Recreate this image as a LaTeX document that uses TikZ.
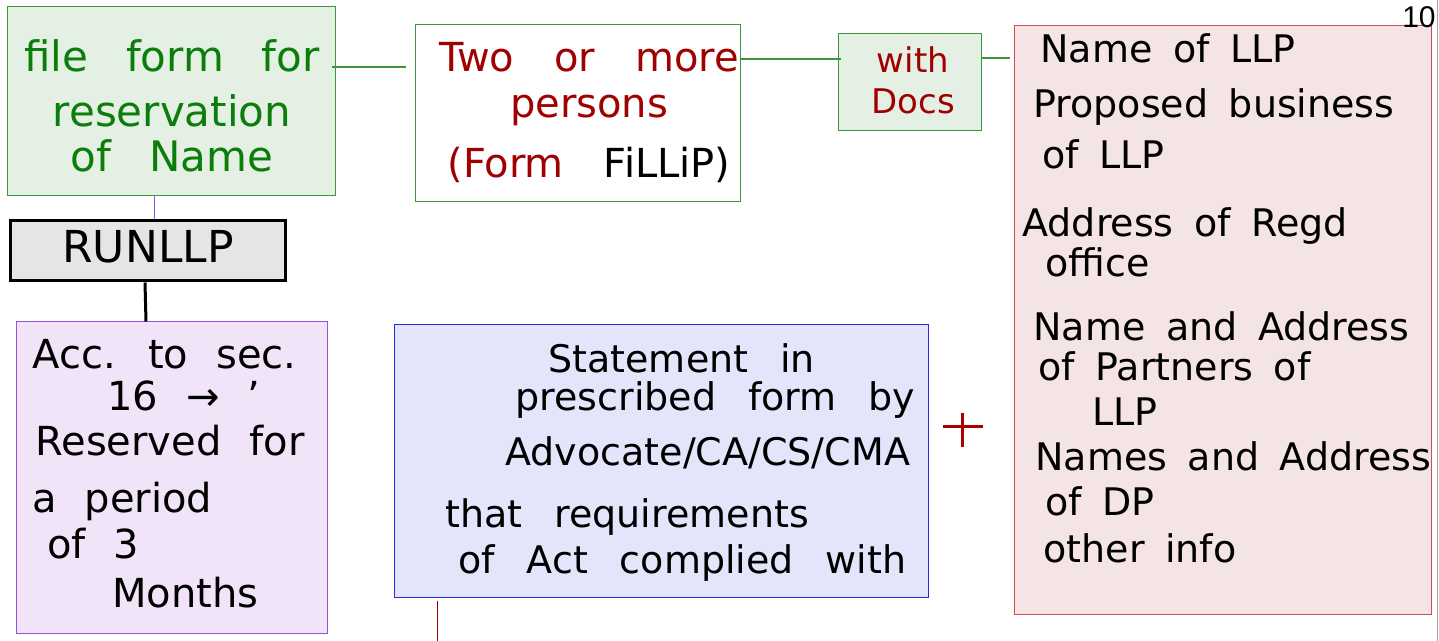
\documentclass[tikz,border=0pt]{standalone}
\usepackage{fontspec}
\setmainfont{DejaVu Sans}
\newfontfamily\pagefont{Liberation Sans}
\definecolor{formgreen}{RGB}{228,240,228}
\definecolor{linegreen}{RGB}{60,150,60}
\definecolor{inkgreen}{RGB}{10,125,10}
\definecolor{inkred}{RGB}{160,0,0}
\definecolor{pinkfill}{RGB}{245,228,229}
\definecolor{pinkline}{RGB}{200,80,80}
\definecolor{lilac}{RGB}{241,228,248}
\definecolor{lilacline}{RGB}{150,80,220}
\definecolor{bluefill}{RGB}{228,228,251}
\definecolor{blueline}{RGB}{40,40,230}
% hand-like text: size, line skip, word space
\newcommand\handfont[3]{\fontsize{#1}{#2}\selectfont\spaceskip=#3 plus 0.1em\relax}
\tikzset{
  box/.style = {draw, line width = 0.5pt, inner sep = 0pt},
  ink/.style = {inner sep = 0pt},
  link/.style = {draw = linegreen, line width = 0.6pt},
}

\begin{document}
\begin{tikzpicture}[x = 0.5pt, y = -0.5pt]
\useasboundingbox (0,0) rectangle (1439,641);
% boxes
\node[box, fill = formgreen, draw = linegreen, minimum width = 164pt, minimum height = 94.5pt](form)at(171,101.5){};
\node[box, fill = white, draw = linegreen, minimum width = 162.5pt, minimum height = 88.5pt](persons)at(577.5,113.5){};
\node[box, fill = formgreen, draw = linegreen, minimum width = 71.5pt, minimum height = 48.5pt](docs)at(909.5,82.5){};
\node[box, fill = pinkfill, draw = pinkline, minimum width = 208.5pt, minimum height = 294pt](details)at(1222.5,320){};
\node[box, fill = black!10, line width = 1.5pt, minimum width = 137.5pt, minimum height = 30pt, text depth = 5pt, font = \fontsize{22}{22}\selectfont](runllp)at(148,251){RUNLLP};
\node[box, fill = lilac, draw = lilacline, minimum width = 155.5pt, minimum height = 155.5pt](period)at(171.5,477.5){};
\node[box, fill = bluefill, draw = blueline, minimum width = 267pt, minimum height = 136pt](statement)at(661,461){};
% texts
\node[ink, anchor = north, align = center, text = inkgreen, font = \handfont{21}{25}{0.9em}](formtext)at(172,39){file form for\\[2.5pt] reservation\\[-2.5pt] of Name};
\node[ink, anchor = north, align = center, text = inkred, font = \handfont{20}{25}{1em}](personstext)at(589,42){Two or more\\[-2pt] persons\\[5pt] (Form \textcolor{black}{FiLLiP)}};
\node[ink, anchor = north, align = center, text = inkred, font = \handfont{17}{20.5}{0.5em}](docstext)at(913,46){with\\ Docs};
\node[ink, anchor = north west, align = left, font = \handfont{19}{25}{0.54em}](detailstext)at(1022,33){%
\hspace*{9pt}Name of LLP\\[2.5pt]
\hspace*{5.5pt}Proposed business\\[0.5pt]
\hspace*{10pt}of LLP\\[9pt]
Address of Regd\\[-5pt]
\hspace*{11.5pt}office\\[7pt]
\hspace*{5.5pt}Name and Address\\[-5pt]
\hspace*{8pt}of Partners of\\[-2.5pt]
\hspace*{35pt}LLP\\[-2.5pt]
\hspace*{6.5pt}Names and Address\\[-2.5pt]
\hspace*{11.5pt}of DP\\[-1.5pt]
\hspace*{10.5pt}other info};
\node[ink, anchor = north west, align = left, font = \handfont{20}{23}{0.7em}](periodtext)at(32,339){%
Acc. to sec.\\[-2pt]
\hspace*{37.5pt}16 → '\\[-0.5pt]
\hspace*{1.5pt}Reserved for\\[5.5pt]
a period\\
\hspace*{7.5pt}of 3\\[1.5pt]
\hspace*{40pt}Months};
\node[ink, anchor = north west, align = left, font = \handfont{19}{24}{0.84em}](statementtext)at(445,343){%
\hspace*{51.5pt}Statement in\\[-5pt]
\hspace*{35pt}prescribed form by\\[3.5pt]
\hspace*{30pt}Advocate/CA/CS/CMA\\[7pt]
that requirements\\[-1pt]
\hspace*{6.5pt}of Act complied with};
\node[ink, anchor = base east, font = \pagefont\fontsize{15}{15}\selectfont](pageno)at(1436,28){10};
% links
\draw[link, shorten <= -2pt, shorten >= 4.5pt](form.east |- 0,67)--(persons.west |- 0,67);
\draw[link, shorten >= -1.5pt](persons.east |- 0,59)--(docs.west |- 0,59);
\draw[link, shorten >= 2pt](docs.east |- 0,58)--(details.west |- 0,58);
\draw[lilacline, line width = 0.5pt](form.south -| 154,0)--(runllp.north -| 154,0);
\draw[line width = 1.5pt](runllp.south -| 145,0)--(period.north -| 146,0);
\coordinate(down)at(437,641);
\draw[inkred, line width = 0.5pt, shorten <= 1.5pt](statement.south -| 437,0)--(down);
% plus and page edge
\draw[inkred!90!red, line width = 1.5pt](943,426)--(983,426)(962,413)--(962,447);
\draw[black!35, line width = 0.5pt](1437.5,0)--(1437.5,641);
\end{tikzpicture}
\end{document}
